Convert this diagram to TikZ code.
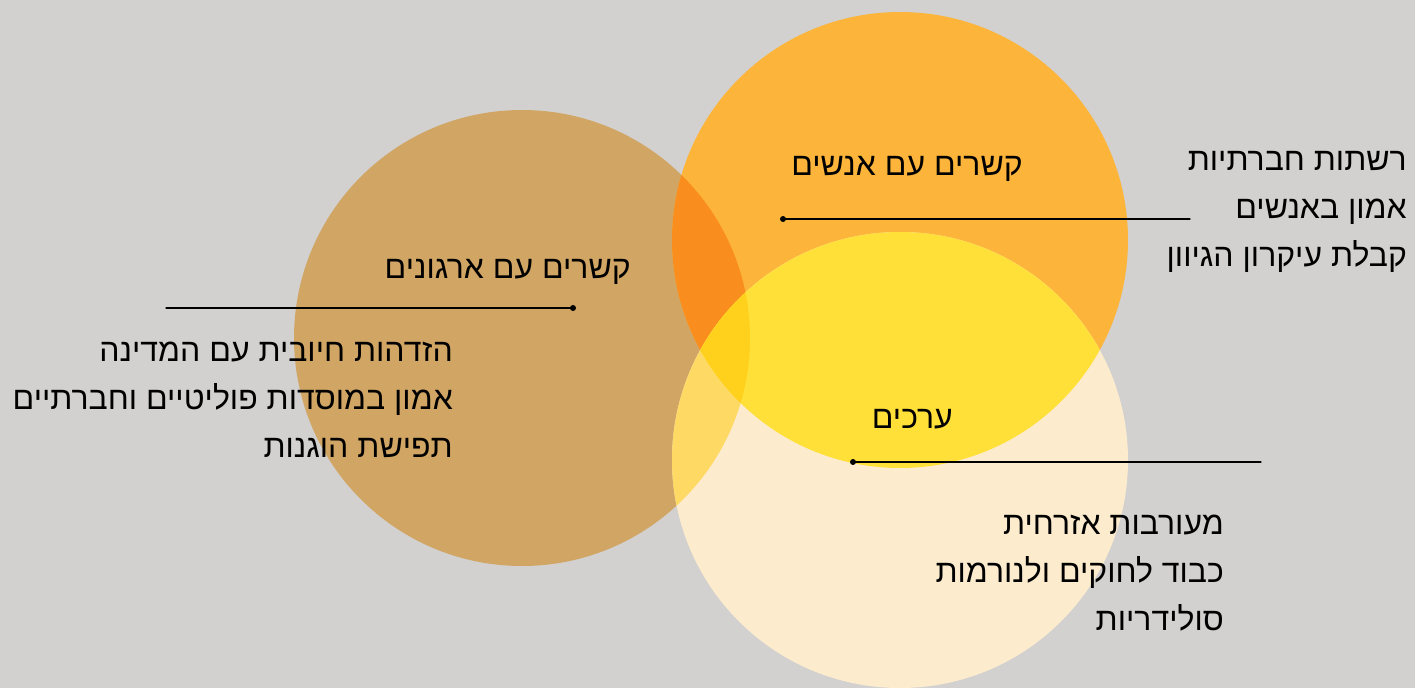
\documentclass[tikz,border=0pt]{standalone}
\usepackage{fontspec}
\TeXXeTstate=1
\newfontfamily\hebfont[Script=Hebrew]{Liberation Sans}
\definecolor{bgGray}{HTML}{D2D1CF}
\definecolor{orgTan}{HTML}{D1A563}
\definecolor{pplOrange}{HTML}{FCB53A}
\definecolor{valCream}{HTML}{FDEBCE}
\definecolor{orgPpl}{HTML}{F98D1E}
\definecolor{pplVal}{HTML}{FFE038}
\definecolor{orgVal}{HTML}{FED963}
\definecolor{allThree}{HTML}{FFD11C}
\tikzset{
  heb/.style={inner sep=0pt, anchor=base east, font=\hebfont\fontsize{32}{48}\selectfont},
  leader/.style={line width=1.2pt, black},
}
\newcommand{\rtl}[1]{\beginR #1\endR}

\begin{document}
\begin{tikzpicture}[x=1pt, y=-1pt, line cap=round, line join=round]

  % ════ רקע ════
  \fill[bgGray] (0,0) rectangle (1415,688);

  % ════ שלושה עיגולים ════
  \fill[orgTan] (522,338) circle (228);
  \fill[pplOrange] (900,240) circle (228);
  \fill[valCream] (900,460) circle (228);

  % ════ חפיפות ════
  \begin{scope}
    \clip (522,338) circle (228);
    \fill[orgPpl] (900,240) circle (228);
    \fill[orgVal] (900,460) circle (228);
  \end{scope}
  \begin{scope}
    \clip (900,240) circle (228);
    \fill[pplVal] (900,460) circle (228);
    \clip (522,338) circle (228);
    \fill[allThree] (900,460) circle (228);
  \end{scope}

  % ════ כותרות ════
  \node[heb] (pplTitle) at (1023,175) {\rtl{קשרים עם אנשים}};
  \node[heb] (orgTitle) at (631,278) {\rtl{קשרים עם ארגונים}};
  \node[heb] (valTitle) at (953,428) {\rtl{ערכים}};

  % ════ קווים ════
  \coordinate (pplDot) at (783,219);
  \coordinate (pplEnd) at (1190,219);
  \coordinate (orgDot) at (573,308);
  \coordinate (orgEnd) at (166,308);
  \coordinate (valDot) at (853,462);
  \coordinate (valEnd) at (1261,462);
  \draw[leader] (pplDot) -- (pplEnd);
  \draw[leader] (orgDot) -- (orgEnd);
  \draw[leader] (valDot) -- (valEnd);
  \fill (pplDot) circle (3);
  \fill (orgDot) circle (3);
  \fill (valDot) circle (3);

  % ════ רשימות (base = שורה אחרונה) ════
  \node[heb, align=right] (pplList) at (1407,266)
    {\rtl{רשתות חברתיות}\\\rtl{אמון באנשים}\\\rtl{קבלת עיקרון הגיוון}};
  \node[heb, align=right] (orgList) at (453,457)
    {\rtl{הזדהות חיובית עם המדינה}\\\rtl{אמון במוסדות פוליטיים וחברתיים}\\\rtl{תפישת הוגנות}};
  \node[heb, align=right] (valList) at (1224,630)
    {\rtl{מעורבות אזרחית}\\\rtl{כבוד לחוקים ולנורמות}\\\rtl{סולידריות}};

  \path[use as bounding box] (0,0) rectangle (1415,688);
\end{tikzpicture}
\end{document}
